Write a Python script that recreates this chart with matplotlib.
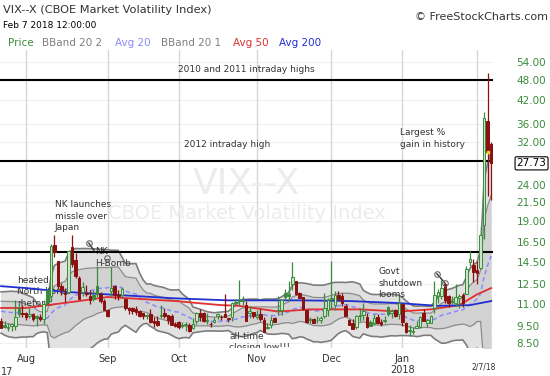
import numpy as np
import matplotlib
matplotlib.use("Agg")
import matplotlib.pyplot as plt

# VIX daily candles, Jul 21 2017 .. Feb 7 2018 (trading days, index -7 .. 131)
opens = [9.80, 9.58, 9.38, 9.48, 9.50, 10.72, 10.34,
         10.35, 10.15, 10.25, 10.15, 10.10, 9.95, 12.01, 11.61, 16.22, 14.56,
         12.36, 11.78, 11.89, 15.95, 14.65, 13.03, 11.87, 11.70, 11.57, 11.63,
         12.40, 11.71, 11.18,
         10.55, 11.98, 12.36, 11.65, 11.66, 11.38, 10.73, 10.68, 10.61, 10.47,
         10.33, 10.20, 10.28, 9.82, 9.81, 10.18, 10.33, 10.20, 10.17, 9.64,
         9.73, 9.56, 9.58, 9.55, 9.37, 9.82, 10.32, 10.35, 9.79, 9.62,
         9.74, 10.15, 10.08, 10.30, 9.96, 10.07, 11.06, 11.23, 11.17, 10.90,
         10.36, 10.43,
         10.08, 10.27, 9.89, 9.46, 9.58, 10.03, 10.56, 10.58, 11.82, 11.75,
         12.53, 12.76, 11.82, 11.49, 10.59, 9.90, 9.96, 9.87, 9.91, 10.17,
         10.59,
         11.34, 10.92, 11.66, 11.54, 10.86, 9.87, 9.69, 9.43, 10.18, 10.22,
         10.11, 9.76, 9.66, 10.05, 9.75, 9.84, 10.76, 10.38, 10.59, 10.29,
         10.95, 9.70, 9.22, 9.14, 9.38, 9.46, 10.36, 9.70, 9.68, 10.71,
         11.61, 11.56, 12.54, 11.60, 11.18, 11.04, 11.42, 11.66, 11.75, 14.45,
         14.20,
         13.74, 13.96, 18.44, 36.66, 31.60]
highs = [10.01, 9.80, 9.66, 9.71, 11.24, 11.12, 10.89,
         10.42, 10.72, 10.38, 10.22, 10.28, 11.30, 12.12, 16.33, 17.28, 14.56,
         12.60, 12.22, 15.70, 17.28, 15.33, 13.18, 12.72, 12.44, 12.06, 12.06,
         14.12, 11.88, 11.32,
         10.65, 14.00, 12.42, 12.05, 12.29, 11.38, 10.78, 10.76, 10.84, 10.59,
         10.36, 10.30, 10.63, 10.07, 10.14, 10.89, 10.68, 10.24, 10.27, 9.78,
         9.85, 9.74, 9.77, 9.66, 10.03, 10.44, 10.64, 10.45, 10.33, 9.77,
         10.11, 10.36, 10.19, 11.72, 10.02, 11.15, 11.38, 12.85, 11.58, 11.22,
         10.86, 10.45,
         10.54, 10.65, 10.07, 9.66, 10.18, 10.06, 11.55, 11.29, 12.09, 12.75,
         14.51, 12.77, 11.86, 11.52, 10.59, 10.09, 10.04, 10.17, 10.14, 11.79,
         11.40,
         14.58, 12.00, 11.99, 11.80, 10.96, 9.94, 9.98, 10.21, 10.63, 11.05,
         10.38, 9.91, 10.27, 10.27, 9.96, 10.14, 10.84, 10.61, 10.60, 11.58,
         10.99, 9.73, 9.58, 9.41, 9.80, 10.12, 10.64, 9.92, 10.22, 12.79,
         12.16, 12.83, 12.63, 11.67, 11.57, 12.49, 11.71, 11.84, 14.14, 15.52,
         14.73,
         14.59, 18.31, 38.80, 50.30, 31.90]
lows = [9.36, 9.40, 9.17, 9.20, 9.24, 10.09, 10.11,
        9.91, 10.01, 9.79, 9.50, 9.81, 9.64, 10.93, 11.21, 14.93, 12.15,
        11.65, 11.12, 11.83, 13.98, 13.05, 11.35, 11.58, 11.55, 10.99, 11.23,
        11.52, 11.02, 10.53,
        10.09, 11.55, 11.38, 11.26, 11.41, 10.58, 10.29, 10.30, 10.20, 10.08,
        9.98, 9.94, 9.66, 9.47, 9.49, 10.00, 10.03, 9.60, 9.54, 9.43,
        9.33, 9.35, 9.19, 9.16, 9.29, 9.64, 9.79, 9.73, 9.64, 9.47,
        9.68, 9.96, 9.91, 10.05, 9.73, 9.85, 10.90, 10.93, 10.92, 9.80,
        10.02, 10.01,
        9.96, 9.79, 9.14, 9.29, 9.38, 9.74, 10.22, 10.19, 11.26, 11.21,
        12.05, 11.66, 11.40, 10.59, 9.70, 9.69, 9.67, 9.69, 9.70, 10.01,
        10.15,
        10.66, 10.54, 11.26, 10.84, 10.16, 9.58, 9.34, 9.31, 9.84, 9.89,
        9.36, 9.53, 9.59, 9.68, 9.51, 9.66, 10.13, 10.04, 10.08, 9.97,
        9.52, 9.10, 8.92, 8.99, 9.38, 9.46, 9.80, 9.45, 9.68, 10.33,
        11.07, 11.37, 11.03, 10.78, 10.99, 10.81, 10.71, 10.76, 11.70, 14.07,
        12.68,
        12.56, 13.84, 16.80, 22.42, 21.80]
closes = [9.36, 9.43, 9.43, 9.60, 10.11, 10.29, 10.26,
          10.09, 10.28, 9.95, 10.03, 9.93, 10.96, 11.11, 16.04, 15.51, 12.33,
          12.04, 11.74, 15.55, 14.26, 13.19, 11.35, 12.25, 11.78, 11.28, 11.32,
          11.70, 11.23, 10.59,
          10.13, 12.23, 11.63, 11.55, 12.12, 10.73, 10.58, 10.50, 10.44, 10.17,
          10.15, 10.18, 9.78, 9.67, 9.59, 10.21, 10.17, 9.87, 9.55, 9.51,
          9.45, 9.51, 9.63, 9.19, 9.65, 10.33, 10.08, 9.85, 9.91, 9.61,
          9.91, 10.31, 10.07, 10.05, 9.97, 11.07, 11.16, 11.23, 11.30, 9.80,
          10.50, 10.18,
          10.20, 9.93, 9.14, 9.40, 9.89, 9.78, 10.50, 11.29, 11.50, 11.59,
          13.13, 11.76, 11.43, 10.65, 9.73, 9.88, 9.67, 9.87, 10.03, 10.70,
          11.28,
          11.43, 11.68, 11.33, 11.02, 10.16, 9.58, 9.34, 10.18, 10.18, 10.49,
          9.42, 9.53, 10.03, 9.72, 9.62, 9.90, 10.25, 10.47, 10.18, 11.04,
          9.77, 9.15, 9.22, 9.22, 9.52, 10.08, 9.82, 9.88, 10.16, 11.66,
          11.91, 12.22, 11.27, 11.03, 11.10, 11.47, 11.58, 11.08, 13.84, 14.79,
          13.54,
          13.47, 17.31, 37.32, 29.98, 27.73]
# 19 closes before Jul 21, needed for the 20-day bands
pre_closes = [10.48, 10.02, 9.90, 10.60, 10.03, 11.44, 11.18, 11.22, 11.07, 11.90,
              11.19, 11.11, 10.89, 10.30, 9.90, 9.51, 9.82, 9.89, 9.79]

# moving averages (trading-day index, value)
avg50_idx = [-7, 0, 15, 23, 42, 55, 60, 71, 80, 94, 105, 114, 122, 127, 131]
avg50_val = [10.7, 10.7, 11.2, 11.5, 11.2, 10.9, 10.85, 10.45, 10.6, 10.6, 10.45, 10.6, 10.9, 11.7, 12.2]
avg200_idx = [-7, 0, 11, 23, 42, 57, 77, 91, 105, 116, 125, 131]
avg200_val = [12.35, 12.2, 11.9, 11.7, 11.4, 11.25, 11.25, 11.2, 11.05, 10.85, 10.9, 11.2]

month_idx = [0, 23, 43, 65, 86, 106, 127]
month_lbl = ["Aug", "Sep", "Oct", "Nov", "Dec", "Jan\n2018", ""]
ytick_vals = [8.5, 9.5, 11.0, 12.5, 14.5, 16.5, 19.0, 21.5, 24.0, 32.0, 36.0, 42.0, 48.0, 54.0]
level_lines = [48.0, 28.2, 15.45]
last_close = 27.73

GREEN = "#3a8a3a"
RED = "#8b1010"
TXT = "#333333"

o = np.array(opens); h = np.array(highs); l = np.array(lows); c = np.array(closes)
n = len(c)
x = np.arange(n) - 7

allc = np.array(pre_closes + closes)
win = np.lib.stride_tricks.sliding_window_view(allc, 20)
mid = win.mean(axis=1)
sd = win.std(axis=1)
up2 = mid + 2 * sd; lo2 = np.maximum(mid - 2 * sd, 1.0)
up1 = mid + sd; lo1 = np.maximum(mid - sd, 1.0)

fig = plt.figure(figsize=(5.5, 3.76), dpi=100)
ax = fig.add_axes([0, 1 - 348 / 376, 493 / 550, 298 / 376])
ax.set_yscale("log")
ax.set_xlim(-7.3, 131.5)
ax.set_ylim(8.22, 58.5)
for s in ax.spines.values():
    s.set_visible(False)

# grid
for v in ytick_vals:
    ax.axhline(v, color="#f0f0f0", lw=0.8, zorder=0)
for m in month_idx:
    ax.axvline(m, color="#d6d6d6", lw=1, zorder=0)

# watermark
ax.text(0.5, 0.55, "VIX--X", transform=ax.transAxes, ha="center", va="center",
        fontsize=26, color="#ececec", zorder=0)
ax.text(0.5, 0.45, "CBOE Market Volatility Index", transform=ax.transAxes, ha="center",
        va="center", fontsize=14, color="#ececec", zorder=0)

# bollinger bands
ax.fill_between(x, lo2, up2, color="#e2e2e2", lw=0, zorder=1)
ax.fill_between(x, lo1, up1, color="#d2d2d2", lw=0, zorder=1)
for b in (up2, lo2):
    ax.plot(x, b, color="#7d7d7d", lw=1.2, zorder=2)
for b in (up1, lo1):
    ax.plot(x, b, color="#8c8c8c", lw=0.9, zorder=2)
ax.plot(x, mid, color="#8a8aff", lw=1.1, ls=(0, (3, 2)), zorder=2)

# moving averages
ax.plot(avg50_idx, avg50_val, color="#e03030", lw=1.3, zorder=3)
ax.plot(avg200_idx, avg200_val, color="#2030d0", lw=1.3, zorder=3)

# level lines
for v in level_lines:
    ax.axhline(v, color="black", lw=1.5, zorder=4)

# annotations
fs = 6.5
ax.text(62, 51.3, "2010 and 2011 intraday highs", fontsize=fs, color=TXT, ha="center", va="center", zorder=2)
ax.text(44.4, 31.5, "2012 intraday high", fontsize=fs, color=TXT, ha="left", va="center", zorder=2)
ax.text(105.3, 32.6, "Largest %\ngain in history", fontsize=fs, color=TXT, ha="left", va="center",
        linespacing=1.4, zorder=2)
ax.text(8.1, 19.6, "NK launches\nmissle over\nJapan", fontsize=fs, color=TXT, ha="left", va="center",
        linespacing=1.4, zorder=2)
ax.text(19.4, 14.9, "NK\nH-Bomb", fontsize=fs, color=TXT, ha="left", va="center",
        linespacing=1.4, zorder=2)
ax.text(-2.5, 11.9, "heated\nNorth Korea\nrhetoric", fontsize=fs, color=TXT, ha="left", va="center",
        linespacing=1.4, zorder=2)
ax.text(57.3, 8.55, "all-time\nclosing low!!!", fontsize=fs, color=TXT, ha="left", va="center",
        linespacing=1.35, zorder=2, clip_on=True)
ax.text(99.2, 12.6, "Govt\nshutdown\nlooms", fontsize=fs, color=TXT, ha="left", va="center",
        linespacing=1.4, zorder=2)
ax.plot([17.7, 19.4], [16.4, 15.5], color="#333333", lw=1, zorder=6)
ax.plot([115.7, 118], [13.4, 12.6], color="#333333", lw=1, zorder=6)
ax.plot([17.7, 22.75, 115.7, 118], [16.4, 14.9, 13.4, 12.6], "o", ms=4, mfc="none",
        mec="#666666", mew=0.8, zorder=6)

# candles: colour by change vs previous close, hollow when close >= open
prev = np.concatenate([[pre_closes[-1]], c[:-1]])
col = np.where(c >= prev, GREEN, RED)
face = np.where(c >= o, "#c8e6c8", col)
face = np.where((c >= o) & (c < prev), "#e8b8b8", face)
ax.vlines(x, l, h, colors=col, lw=0.9, zorder=5)
body_lo = np.minimum(o, c)
body_h = np.maximum(np.abs(c - o), 0.04)
ax.bar(x, body_h, bottom=body_lo, width=0.72, color=face, edgecolor=col, lw=0.7, zorder=5)
ax.plot(x[-2], c[-2], marker="s", ms=2, color="#f0d020", zorder=6)

# axes ticks
ax.set_xticks(month_idx)
ax.set_xticklabels(month_lbl, fontsize=7, color=TXT)
ax.tick_params(axis="x", length=0, pad=4)
ax.yaxis.set_minor_locator(matplotlib.ticker.NullLocator())
ax.set_yticks(ytick_vals)
ax.set_yticklabels(["%.2f" % v for v in ytick_vals], fontsize=7.5, color=GREEN)
ax.tick_params(axis="y", which="both", length=0, left=False, labelleft=False,
               right=True, labelright=True, pad=17)
ax.annotate("%.2f" % last_close, xy=(1, last_close), xycoords=("axes fraction", "data"),
            xytext=(17, 0), textcoords="offset points", ha="left", va="center",
            fontsize=7.5, color="black",
            bbox=dict(boxstyle="round,pad=0.15", fc="white", ec="black", lw=0.8))

# header texts
fig.text(3 / 550, 1 - 10 / 376, "VIX--X (CBOE Market Volatility Index)", fontsize=8.2,
         color=TXT, va="center")
fig.text(3 / 550, 1 - 25 / 376, "Feb 7 2018 12:00:00", fontsize=6.5, color="black", va="center")
fig.text(548 / 550, 1 - 17 / 376, "\u00a9 FreeStockCharts.com", fontsize=8, color=TXT,
         ha="right", va="center")
legend = [("Price", 8, GREEN), ("BBand 20 2", 42, "#808080"), ("Avg 20", 115, "#8a8aff"),
          ("BBand 20 1", 161, "#808080"), ("Avg 50", 233, "#e03030"), ("Avg 200", 279, "#2030d0")]
for name, px, cl in legend:
    fig.text(px / 550, 1 - 43 / 376, name, fontsize=7.5, color=cl, va="center")
fig.text(1 / 550, 1 - 372 / 376, "17", fontsize=7, color=TXT, va="center")
fig.text(484 / 550, 1 - 367 / 376, "2/7/18", fontsize=5.5, color=TXT, ha="center", va="center")

fig.savefig("out.png", dpi=100)
